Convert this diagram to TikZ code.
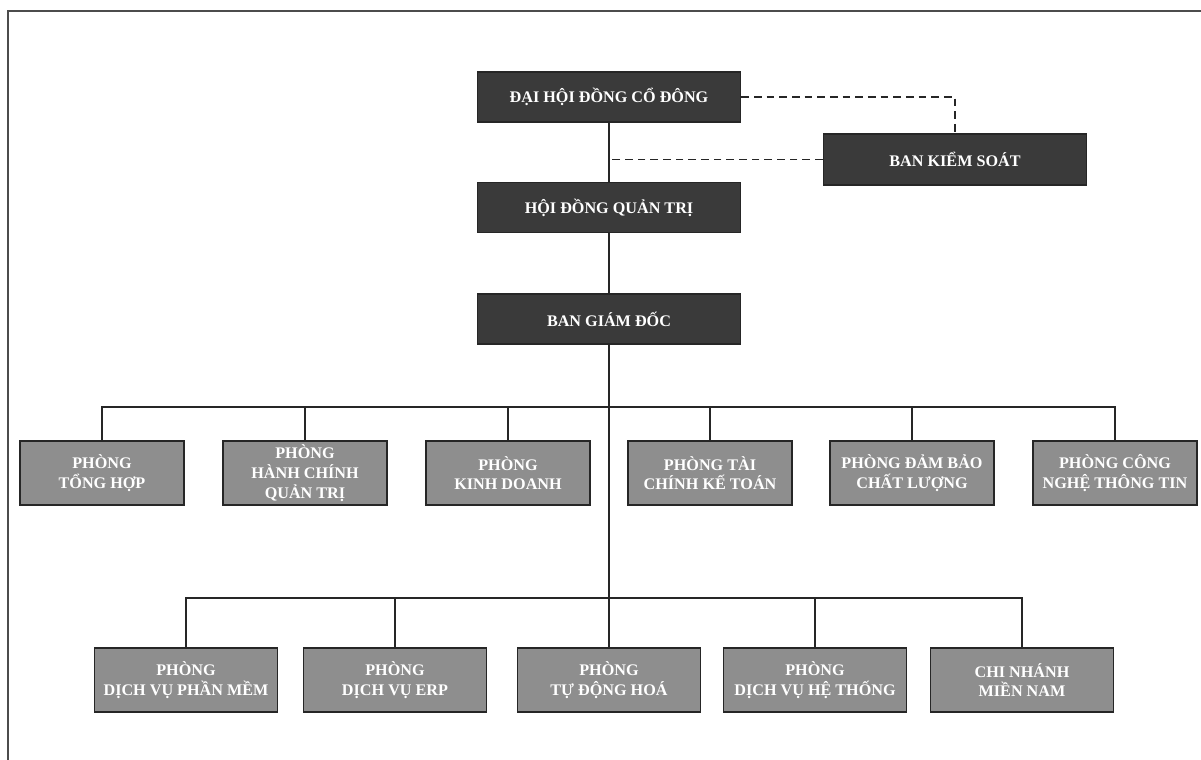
\documentclass[tikz,border=0pt]{standalone}
\usepackage{fontspec}
\setmainfont{Liberation Serif}
\usepackage{xcolor}
\usetikzlibrary{positioning}
\definecolor{darkbox}{HTML}{3A3A3A}
\definecolor{greybox}{HTML}{8E8E8E}

\begin{document}
\begin{tikzpicture}[x=0.025cm,y=-0.025cm,
topbox/.style={draw=black!85,line width=1.2pt,fill=darkbox,text=white,font=\bfseries\fontsize{11.5}{14}\selectfont,minimum width=6.575cm,minimum height=1.25cm,inner sep=0pt,align=center},
deptbox/.style={draw=black!85,line width=1.2pt,fill=greybox,text=white,font=\bfseries\fontsize{11.5}{14}\selectfont,minimum width=4.1cm,minimum height=1.6cm,inner sep=0pt,align=center},
unitbox/.style={deptbox,minimum width=4.575cm},
link/.style={line width=1pt,black!85},
ctrl/.style={link,dash pattern=on 5.5pt off 3.5pt}]
\useasboundingbox (0,0) rectangle (1201,760);
\draw[line width=1.2pt,black!70](8,760)--(8,11)--(1201,11);
% top levels
\node[topbox](dhd) at (609,97){ĐẠI HỘI ĐỒNG CỔ ĐÔNG};
\node[topbox](hdqt) at (609,207.5){HỘI ĐỒNG QUẢN TRỊ};
\node[topbox](bgd) at (609,319){BAN GIÁM ĐỐC};
\node[topbox,minimum height=1.275cm](bks) at (955,159.5){BAN KIỂM SOÁT};
% first row
\node[deptbox](pth) at (102,473){PHÒNG\\TỔNG HỢP};
\node[deptbox](phc) at (305,473){PHÒNG\\HÀNH CHÍNH\\QUẢN TRỊ};
\node[deptbox](pkd) at (508,473){PHÒNG\\KINH DOANH};
\node[deptbox](ptc) at (710,473){PHÒNG TÀI\\CHÍNH KẾ TOÁN};
\node[deptbox](pdb) at (912,473){PHÒNG ĐẢM BẢO\\CHẤT LƯỢNG};
\node[deptbox](pcn) at (1115,473){PHÒNG CÔNG\\NGHỆ THÔNG TIN};
% second row
\node[unitbox](pdvpm) at (186,680){PHÒNG\\DỊCH VỤ PHẦN MỀM};
\node[unitbox](perp) at (395,680){PHÒNG\\DỊCH VỤ ERP};
\node[unitbox](ptdh) at (609,680){PHÒNG\\TỰ ĐỘNG HOÁ};
\node[unitbox](pdvht) at (815,680){PHÒNG\\DỊCH VỤ HỆ THỐNG};
\node[unitbox](cnmn) at (1022,680){CHI NHÁNH\\MIỀN NAM};
\coordinate(bus1) at (609,407);
\coordinate(bus2) at (609,598);
\draw[link](dhd)--(hdqt) (hdqt)--(bgd) (bgd.south)--(ptdh.north);
\draw[link](pth.north)|-(pcn.north|-bus1)--(pcn.north)
(phc.north)--(phc.north|-bus1) (pkd.north)--(pkd.north|-bus1)
(ptc.north)--(ptc.north|-bus1) (pdb.north)--(pdb.north|-bus1);
\draw[link](pdvpm.north)|-(cnmn.north|-bus2)--(cnmn.north)
(perp.north)--(perp.north|-bus2) (pdvht.north)--(pdvht.north|-bus2);
\draw[ctrl](dhd.east)-|(bks.north);
\draw[ctrl](bks.west)--(bks.west-|dhd.south);
\end{tikzpicture}
\end{document}
